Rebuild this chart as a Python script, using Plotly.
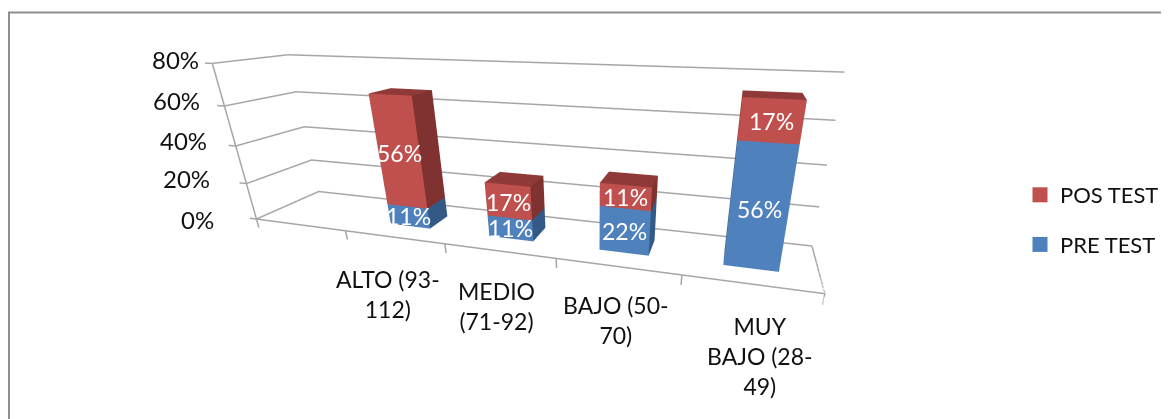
import plotly.graph_objects as go

# first slot of the category axis is empty in the original chart
categories = ["", "ALTO (93-<br>112)", "MEDIO<br>(71-92)", "BAJO (50-<br>70)", "MUY<br>BAJO (28-<br>49)"]
pre_test = [0, 11, 11, 22, 56]
pos_test = [0, 56, 17, 11, 17]
y_ticks = [0, 20, 40, 60, 80]

PRE_FRONT, PRE_SIDE, PRE_TOP = "#4f81bd", "#335a86", "#3f6797"
POS_FRONT, POS_SIDE, POS_TOP = "#c0504d", "#7f322f", "#8f3a38"
GRID = "#a6a6a6"
TEXT = "#111111"
FONT = "Lato"
BAR_W = 0.4116
BAR_D = 0.3789
FRONT_Y = 0.5 - BAR_D / 2

x_lo, x_hi = -0.5, len(categories) - 0.5
x_min, z_min = x_lo - 0.08, -5
z_top = y_ticks[-1]
z_max = z_top + 1

# label nudges in pixels, the scene projection does not put them where the original has them
tick_shift_x = [-41, -35, -27, -23, -11]
tick_shift_y = [0, 5, 6, 6, 4]
cat_shift_x = [0, -6, -2, -1, 9]
cat_shift_y = [0, 10, 8, 7, 10]


def box(i, z0, z1, front, side, top):
    # one stacked segment as a cuboid: x = category, y = depth, z = percent
    x0, x1 = i - BAR_W / 2, i + BAR_W / 2
    d0, d1 = 0.5 - BAR_D / 2, 0.5 + BAR_D / 2
    return go.Mesh3d(
        x=[x0, x1, x1, x0, x0, x1, x1, x0],
        y=[d0, d0, d1, d1, d0, d0, d1, d1],
        z=[z0, z0, z0, z0, z1, z1, z1, z1],
        i=[0, 0, 4, 4, 0, 0, 1, 1, 2, 2, 3, 3],
        j=[1, 2, 5, 6, 1, 5, 2, 6, 3, 7, 0, 4],
        k=[2, 3, 6, 7, 5, 4, 6, 5, 7, 6, 4, 7],
        facecolor=[side, side, top, top, front, front, side, side, side, side, side, side],
        flatshading=True,
        lighting=dict(ambient=1, diffuse=0, specular=0, fresnel=0, roughness=1),
        hoverinfo="skip",
        showlegend=False,
    )


def frame_line(xs, ys, zs):
    return go.Scatter3d(x=xs, y=ys, z=zs, mode="lines", line=dict(color=GRID, width=3),
                        hoverinfo="skip", showlegend=False)


fig = go.Figure()

# gridlines on the two back walls, then the axis edges and ticks
for t in y_ticks:
    fig.add_trace(frame_line([x_lo, x_lo, x_hi], [0, 1, 1], [t, t, t]))
    fig.add_trace(frame_line([x_min, x_lo], [0, 0], [t, t]))
fig.add_trace(frame_line([x_lo, x_lo], [0, 0], [0, z_top]))
fig.add_trace(frame_line([x_lo, x_hi, x_hi], [0, 0, 1], [0, 0, 0]))
for k in range(len(categories) + 1):
    fig.add_trace(frame_line([x_lo + k, x_lo + k], [0, 0], [z_min, 0]))

labels = []
for i in range(1, len(categories)):
    fig.add_trace(box(i, 0, pre_test[i], PRE_FRONT, PRE_SIDE, PRE_TOP))
    fig.add_trace(box(i, pre_test[i], pre_test[i] + pos_test[i], POS_FRONT, POS_SIDE, POS_TOP))
    for z, v in ((pre_test[i] / 2, pre_test[i]), (pre_test[i] + pos_test[i] / 2, pos_test[i])):
        labels.append(dict(x=i, y=FRONT_Y, z=z, text=f"{v}%", showarrow=False,
                           font=dict(color="white", size=23, family=FONT)))
    labels.append(dict(x=i, y=0, z=0, text=categories[i], showarrow=False, yanchor="top",
                       xshift=cat_shift_x[i], yshift=-16 - cat_shift_y[i],
                       font=dict(color=TEXT, size=23, family=FONT)))

for n, t in enumerate(y_ticks):
    labels.append(dict(x=x_lo, y=0, z=t, text=f"{t}%", showarrow=False, xanchor="right",
                       xshift=tick_shift_x[n], yshift=tick_shift_y[n],
                       font=dict(color=TEXT, size=24, family=FONT)))

# legend entries, squares only
fig.add_trace(go.Scatter(x=[None], y=[None], mode="markers", name="POS TEST", legendgroup="pos",
                         marker=dict(symbol="square", size=15, color=POS_FRONT)))
fig.add_trace(go.Scatter(x=[None], y=[None], mode="markers", name="PRE TEST", legendgroup="pre",
                         marker=dict(symbol="square", size=15, color=PRE_FRONT)))

no_axis = dict(showgrid=False, zeroline=False, showticklabels=False, showline=False,
               showbackground=False, title="", ticks="", showspikes=False)

fig.update_layout(
    width=1169, height=419,
    margin=dict(l=0, r=0, t=0, b=0),
    paper_bgcolor="white",
    plot_bgcolor="white",
    font=dict(family=FONT, size=22, color=TEXT),
    xaxis=dict(visible=False), yaxis=dict(visible=False),
    legend=dict(x=1012 / 1169, y=0.494, yanchor="middle", traceorder="grouped", tracegroupgap=18,
                font=dict(size=22), bgcolor="rgba(0,0,0,0)"),
    scene=dict(
        domain=dict(x=[0.0019, 1], y=[0, 1]),
        aspectmode="manual",
        aspectratio=dict(x=3.4773, y=0.5387, z=1.0429),
        camera=dict(eye=dict(x=1.2243, y=-2.5893, z=0.8298),
                    center=dict(x=0.3540, y=0.5539, z=-0.5559),
                    up=dict(x=0, y=0, z=1),
                    projection=dict(type="perspective")),
        xaxis=dict(range=[x_min, x_hi], **no_axis),
        yaxis=dict(range=[0, 1], **no_axis),
        zaxis=dict(range=[z_min, z_max], **no_axis),
        annotations=labels,
    ),
    shapes=[dict(type="rect", xref="paper", yref="paper", x0=1 / 1169, x1=1.1, y0=-0.1, y1=1 - 4.5 / 419,
                 line=dict(color="#8f8f8f", width=2))],
)

fig.write_html("out.html")
